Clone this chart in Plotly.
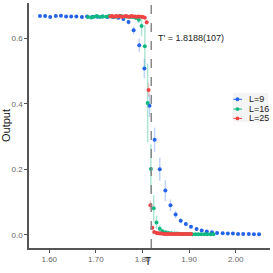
import plotly.graph_objects as go

# ---- data ----
T_L9 = [1.580, 1.591, 1.602, 1.614, 1.625, 1.636, 1.647, 1.658, 1.670, 1.681,
        1.692, 1.703, 1.714, 1.725, 1.737, 1.748, 1.759, 1.770, 1.781, 1.793,
        1.804, 1.815, 1.826, 1.837, 1.849, 1.860, 1.871, 1.882, 1.893, 1.904,
        1.916, 1.927, 1.938, 1.949, 1.960, 1.972, 1.983, 1.994, 2.005, 2.016,
        2.028, 2.039, 2.050]
Y_L9 = [0.667, 0.667, 0.664, 0.667, 0.668, 0.666, 0.666, 0.666, 0.664, 0.666,
        0.664, 0.665, 0.666, 0.664, 0.664, 0.662, 0.658, 0.649, 0.624, 0.578,
        0.507, 0.394, 0.290, 0.200, 0.135, 0.090, 0.062, 0.043, 0.033, 0.025,
        0.018, 0.013, 0.010, 0.008, 0.006, 0.005, 0.004, 0.004, 0.003, 0.003,
        0.003, 0.002, 0.002]
E_L9 = [0.002, 0.002, 0.002, 0.002, 0.002, 0.002, 0.002, 0.002, 0.002, 0.002,
        0.002, 0.002, 0.002, 0.002, 0.003, 0.003, 0.004, 0.008, 0.012, 0.020,
        0.030, 0.035, 0.037, 0.035, 0.032, 0.018, 0.012, 0.008, 0.006, 0.004,
        0.003, 0.002, 0.002, 0.002, 0.001, 0.001, 0.001, 0.001, 0.001, 0.001,
        0.001, 0.001, 0.001]

T_L16 = [1.683, 1.690, 1.696, 1.702, 1.709, 1.715, 1.722, 1.728, 1.734, 1.741,
         1.747, 1.754, 1.760, 1.766, 1.773, 1.779, 1.786, 1.792, 1.798, 1.805,
         1.811, 1.818, 1.824, 1.830, 1.837, 1.843, 1.850, 1.856, 1.862, 1.869,
         1.875, 1.882, 1.888, 1.894, 1.901, 1.907, 1.914, 1.920, 1.926, 1.933,
         1.939, 1.946, 1.952]
Y_L16 = [0.664, 0.663, 0.665, 0.667, 0.664, 0.666, 0.665, 0.667, 0.666, 0.665,
         0.666, 0.667, 0.665, 0.666, 0.664, 0.664, 0.661, 0.656, 0.637, 0.575,
         0.402, 0.201, 0.081, 0.038, 0.019, 0.011, 0.008, 0.006, 0.005, 0.004,
         0.004, 0.003, 0.003, 0.003, 0.003, 0.002, 0.002, 0.002, 0.002, 0.002,
         0.002, 0.002, 0.002]
E_L16 = [0.003, 0.003, 0.003, 0.003, 0.003, 0.003, 0.003, 0.003, 0.003, 0.003,
         0.003, 0.003, 0.003, 0.003, 0.003, 0.004, 0.005, 0.010, 0.030, 0.065,
         0.120, 0.075, 0.040, 0.020, 0.010, 0.006, 0.004, 0.002, 0.002, 0.002,
         0.002, 0.002, 0.002, 0.002, 0.002, 0.002, 0.002, 0.002, 0.002, 0.002,
         0.002, 0.002, 0.002]

T_L25 = [1.731, 1.735, 1.739, 1.743, 1.747, 1.751, 1.755, 1.759, 1.764, 1.768,
         1.772, 1.776, 1.780, 1.784, 1.788, 1.792, 1.797, 1.801, 1.805, 1.809,
         1.813, 1.817, 1.821, 1.825, 1.830, 1.834, 1.838, 1.842, 1.846, 1.850,
         1.854, 1.858, 1.863, 1.867, 1.871, 1.875, 1.879, 1.883, 1.887, 1.891,
         1.896, 1.900, 1.904]
Y_L25 = [0.666, 0.667, 0.665, 0.667, 0.666, 0.667, 0.665, 0.666, 0.667, 0.666,
         0.665, 0.667, 0.666, 0.666, 0.665, 0.666, 0.665, 0.664, 0.662, 0.648,
         0.442, 0.090, 0.022, 0.009, 0.006, 0.005, 0.004, 0.004, 0.003, 0.003,
         0.003, 0.003, 0.003, 0.003, 0.003, 0.003, 0.003, 0.003, 0.003, 0.003,
         0.003, 0.003, 0.003]
E_L25 = [0.002, 0.002, 0.002, 0.002, 0.002, 0.002, 0.002, 0.002, 0.002, 0.002,
         0.002, 0.002, 0.002, 0.002, 0.002, 0.002, 0.002, 0.003, 0.004, 0.008,
         0.020, 0.015, 0.006, 0.004, 0.002, 0.002, 0.002, 0.002, 0.002, 0.002,
         0.002, 0.002, 0.002, 0.002, 0.002, 0.002, 0.002, 0.002, 0.002, 0.002,
         0.002, 0.002, 0.002]

T_CRIT = 1.8188
CRIT_LABEL = "T' = 1.8188(107)"
SERIES = [
    ("L=9", T_L9, Y_L9, E_L9, "#2563eb", "rgba(37,99,235,0.28)"),
    ("L=16", T_L16, Y_L16, E_L16, "#10b981", "rgba(16,185,129,0.35)"),
    ("L=25", T_L25, Y_L25, E_L25, "#ef4444", "rgba(239,68,68,0.3)"),
]

fig = go.Figure()
for name, xs, ys, es, col, ecol in SERIES:
    fig.add_trace(go.Scatter(
        x=xs, y=ys, mode="markers", name=name, showlegend=False,
        marker=dict(color=col, size=4),
        error_y=dict(type="data", array=es, visible=True, color=ecol,
                     thickness=1.5, width=0),
    ))

fig.add_shape(type="line", x0=T_CRIT, x1=T_CRIT, xref="x", y0=0, y1=1,
              yref="paper", line=dict(color="#888888", width=1.5, dash="dash"))
fig.add_annotation(x=T_CRIT, xref="x", xanchor="left", xshift=5, y=0.6,
                   yref="y", yanchor="middle", text=CRIT_LABEL, showarrow=False,
                   font=dict(size=9, color="#222222"))

# compact legend (paper coordinates of the plot area)
LEG_X0, LEG_X1, LEG_Y0, LEG_Y1 = 0.846, 0.992, 0.514, 0.633
fig.add_shape(type="rect", xref="paper", yref="paper", x0=LEG_X0, x1=LEG_X1,
              y0=LEG_Y0, y1=LEG_Y1, line=dict(width=0),
              fillcolor="rgba(243,243,243,0.9)")
row_y = [0.607, 0.567, 0.529]
for (name, xs, ys, es, col, ecol), ry in zip(SERIES, row_y):
    fig.add_shape(type="line", xref="paper", yref="paper", x0=0.848, x1=0.884,
                  y0=ry, y1=ry, line=dict(color=col, width=1))
    fig.add_shape(type="circle", xref="paper", yref="paper", x0=0.857, x1=0.873,
                  y0=ry - 0.008, y1=ry + 0.008, line=dict(width=0), fillcolor=col)
    fig.add_annotation(x=0.903, y=ry, xref="paper", yref="paper", xanchor="left",
                       yanchor="middle", text=name, showarrow=False,
                       font=dict(size=9, color="#222222"))

# x-axis title as a positioned text
fig.add_annotation(x=0.495, y=-0.082, xref="paper", yref="paper", xanchor="center",
                   yanchor="bottom", text="T", showarrow=False, borderpad=0,
                   font=dict(size=10, color="#111111"))

axis_common = dict(showgrid=False, zeroline=False, showline=True,
                   linecolor="#555555", linewidth=1.5, ticks="outside",
                   ticklen=3, tickcolor="#555555", automargin=False,
                   tickfont=dict(size=8, color="#666666"))
fig.update_xaxes(range=[1.5565, 2.0735], tickvals=[1.6, 1.7, 1.8, 1.9, 2.0],
                 ticktext=["1.60", "1.70", "1.80", "1.90", "2.00"],
                 **axis_common)
fig.update_yaxes(range=[-0.04, 0.707], tickvals=[0, 0.2, 0.4, 0.6],
                 ticktext=["0.0", "0.2", "0.4", "0.6"],
                 title=dict(text="Output", font=dict(size=11, color="#111111"),
                            standoff=4), **axis_common)
fig.update_layout(
    width=273, height=273, margin=dict(l=29, r=3, t=3, b=25),
    plot_bgcolor="white", paper_bgcolor="white", showlegend=False,
    font=dict(family="Liberation Sans, Arial, sans-serif"),
)
fig.write_html("out.html", config={"displayModeBar": False},
               post_script="document.body.style.margin='0';")
